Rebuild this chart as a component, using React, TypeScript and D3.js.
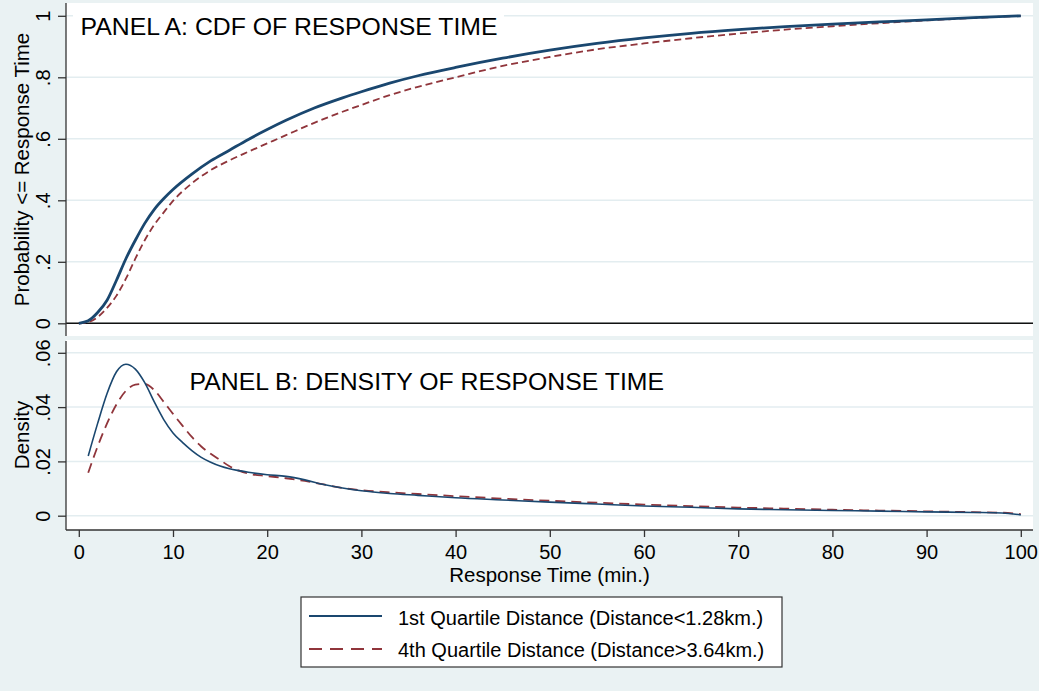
import { useEffect, useRef } from 'react';
import * as d3 from 'd3';

// response time grid (minutes) for the CDF panel
const cdfTimes = [0, 1, 2, 3, 4, 5, 6, 7, 8, 9, 10, 12, 14, 16, 18, 20, 22, 25, 28, 30, 33, 36, 40, 45, 50, 55, 60, 65, 70, 75, 80, 85, 90, 95, 100];
const cdfQ1 = [0, 0.008, 0.035, 0.075, 0.14, 0.21, 0.27, 0.325, 0.37, 0.405, 0.435, 0.485, 0.528, 0.563, 0.598, 0.63, 0.66, 0.7, 0.733, 0.753, 0.781, 0.805, 0.832, 0.862, 0.888, 0.91, 0.928, 0.943, 0.955, 0.965, 0.973, 0.98, 0.987, 0.994, 1.0];
const cdfQ4 = [0, 0.004, 0.02, 0.05, 0.09, 0.145, 0.21, 0.27, 0.32, 0.36, 0.398, 0.455, 0.498, 0.53, 0.558, 0.585, 0.612, 0.652, 0.688, 0.71, 0.742, 0.769, 0.8, 0.837, 0.866, 0.891, 0.91, 0.927, 0.942, 0.955, 0.966, 0.976, 0.985, 0.993, 1.0];

// density panel
const densTimes = [1, 2, 3, 4, 5, 6, 7, 8, 9, 10, 11, 12, 13, 14, 15, 16, 17, 18, 20, 22, 24, 26, 28, 30, 33, 36, 40, 45, 50, 55, 60, 65, 70, 75, 80, 85, 90, 95, 98, 100];
const densQ1 = [0.022, 0.034, 0.045, 0.053, 0.0558, 0.054, 0.049, 0.042, 0.0355, 0.0305, 0.027, 0.024, 0.0215, 0.0197, 0.0183, 0.0173, 0.0166, 0.016, 0.0151, 0.0145, 0.0132, 0.0115, 0.0102, 0.0092, 0.0082, 0.0075, 0.0066, 0.0058, 0.005, 0.0043, 0.0036, 0.0031, 0.0025, 0.0022, 0.0019, 0.0017, 0.0014, 0.0012, 0.001, 0.0003];
const densQ4 = [0.0158, 0.0255, 0.034, 0.041, 0.046, 0.0483, 0.0486, 0.0463, 0.042, 0.0375, 0.0332, 0.029, 0.0255, 0.0228, 0.0205, 0.0182, 0.0166, 0.0155, 0.0146, 0.0138, 0.0128, 0.0115, 0.0102, 0.0094, 0.0086, 0.008, 0.0072, 0.0063, 0.0055, 0.0048, 0.0041, 0.0035, 0.003, 0.0026, 0.0022, 0.0019, 0.0016, 0.0013, 0.0011, 0.0006];

const xTicks = [0, 10, 20, 30, 40, 50, 60, 70, 80, 90, 100];
const cdfTicks = [0, 0.2, 0.4, 0.6, 0.8, 1];
const densTicks = [0, 0.02, 0.04, 0.06];

const seriesLabels = [
  '1st Quartile Distance (Distance<1.28km.)',
  '4th Quartile Distance (Distance>3.64km.)',
];

const BG = '#eaf2f3';
const GRID = '#e3edf0';
const BLUE = '#1a476f';
const RED = '#90353b';
const FONT = '"Liberation Sans", Arial, Helvetica, sans-serif';

const stataNum = (v: number) => (v === 0 ? '0' : v === 1 ? '1' : String(+v.toFixed(3)).replace(/^0/, ''));

export default function App() {
  const ref = useRef<SVGSVGElement | null>(null);

  useEffect(() => {
    const el = ref.current;
    if (!el) return;
    document.body.style.margin = '0';
    const svg = d3.select(el);
    svg.selectAll('*').remove();

    const W = 1039;
    const H = 691;
    const left = 66;
    const right = 1033;

    svg.append('rect').attr('width', W).attr('height', H).attr('fill', BG);

    const x = d3.scaleLinear().domain([0, 100]).range([78.8, 1020.8]);
    const yA = d3.scaleLinear().domain([0, 1]).range([323.3, 15.8]);
    const yB = d3.scaleLinear().domain([0, 0.06]).range([515.7, 352.8]);

    // plot regions
    svg.append('rect').attr('x', left).attr('y', 3).attr('width', right - left).attr('height', 333).attr('fill', '#fff');
    svg.append('rect').attr('x', left).attr('y', 340).attr('width', right - left).attr('height', 190).attr('fill', '#fff');

    // grid lines
    svg.append('g').selectAll('line').data(cdfTicks).join('line')
      .attr('x1', left).attr('x2', right)
      .attr('y1', (d) => yA(d)).attr('y2', (d) => yA(d))
      .attr('stroke', GRID).attr('stroke-width', 1.5);
    svg.append('g').selectAll('line').data(densTicks).join('line')
      .attr('x1', left).attr('x2', right)
      .attr('y1', (d) => yB(d)).attr('y2', (d) => yB(d))
      .attr('stroke', GRID).attr('stroke-width', 1.5);

    // panel A title with its white box
    svg.append('rect').attr('x', 73).attr('y', 8).attr('width', 431).attr('height', 36).attr('fill', '#fff');
    svg.append('text').attr('x', 80.5).attr('y', 35)
      .attr('font-family', FONT).attr('font-size', 24.8).attr('fill', '#000')
      .text('PANEL A: CDF OF RESPONSE TIME');

    // zero line in panel A
    svg.append('line').attr('x1', left).attr('x2', right).attr('y1', yA(0)).attr('y2', yA(0))
      .attr('stroke', '#111').attr('stroke-width', 1.6);

    const cdfLine = (vals: number[]) =>
      d3.line<number>().x((_, i) => x(cdfTimes[i])).y((d) => yA(d)).curve(d3.curveMonotoneX)(vals);
    const densLine = (vals: number[]) =>
      d3.line<number>().x((_, i) => x(densTimes[i])).y((d) => yB(d)).curve(d3.curveMonotoneX)(vals);

    svg.append('path').attr('d', cdfLine(cdfQ4)).attr('fill', 'none')
      .attr('stroke', RED).attr('stroke-width', 1.8).attr('stroke-dasharray', '7,4');
    svg.append('path').attr('d', cdfLine(cdfQ1)).attr('fill', 'none')
      .attr('stroke', BLUE).attr('stroke-width', 2.8);

    svg.append('text').attr('x', 189.5).attr('y', 390)
      .attr('font-family', FONT).attr('font-size', 24.8).attr('fill', '#000')
      .text('PANEL B: DENSITY OF RESPONSE TIME');

    svg.append('path').attr('d', densLine(densQ4)).attr('fill', 'none')
      .attr('stroke', RED).attr('stroke-width', 1.8).attr('stroke-dasharray', '10,6');
    svg.append('path').attr('d', densLine(densQ1)).attr('fill', 'none')
      .attr('stroke', BLUE).attr('stroke-width', 1.6);

    // axes
    const styleAxis = (g: d3.Selection<SVGGElement, unknown, null, undefined>) => {
      g.select('.domain').attr('stroke', '#333').attr('stroke-width', 1.3);
      g.selectAll('.tick line').attr('stroke', '#333').attr('stroke-width', 1.3);
      g.selectAll('.tick text').attr('fill', '#000').attr('font-family', FONT).attr('font-size', 20);
    };

    const axA = svg.append('g').attr('transform', `translate(${left},0)`)
      .call(d3.axisLeft(yA).tickValues(cdfTicks).tickSize(8).tickSizeOuter(0).tickFormat((d) => stataNum(+d)));
    axA.select('.domain').attr('d', 'M0,3V336');
    styleAxis(axA);
    axA.selectAll('.tick text').attr('x', 0).attr('dy', 0).attr('text-anchor', 'middle')
      .attr('transform', 'translate(-16,0) rotate(-90)');

    const axB = svg.append('g').attr('transform', `translate(${left},0)`)
      .call(d3.axisLeft(yB).tickValues(densTicks).tickSize(8).tickSizeOuter(0).tickFormat((d) => stataNum(+d)));
    axB.select('.domain').attr('d', 'M0,341V530');
    styleAxis(axB);
    axB.selectAll('.tick text').attr('x', 0).attr('dy', 0).attr('text-anchor', 'middle')
      .attr('transform', 'translate(-16,0) rotate(-90)');

    const axX = svg.append('g').attr('transform', 'translate(0,530)')
      .call(d3.axisBottom(x).tickValues(xTicks).tickSize(7).tickSizeOuter(0));
    axX.select('.domain').attr('d', `M${left},0H${right}`);
    styleAxis(axX);
    axX.selectAll('.tick text').attr('y', 28.5).attr('dy', 0);

    // axis titles
    svg.append('text').attr('transform', 'translate(29,169.5) rotate(-90)')
      .attr('text-anchor', 'middle').attr('font-family', FONT).attr('font-size', 20.5).attr('fill', '#000')
      .text('Probability <= Response Time');
    svg.append('text').attr('transform', 'translate(29,435) rotate(-90)')
      .attr('text-anchor', 'middle').attr('font-family', FONT).attr('font-size', 20.5).attr('fill', '#000')
      .text('Density');
    svg.append('text').attr('x', (left + right) / 2).attr('y', 582)
      .attr('text-anchor', 'middle').attr('font-family', FONT).attr('font-size', 20.5).attr('fill', '#000')
      .text('Response Time (min.)');

    // legend
    const lg = svg.append('g');
    lg.append('rect').attr('x', 301).attr('y', 597).attr('width', 481).attr('height', 70)
      .attr('fill', '#fff').attr('stroke', '#333').attr('stroke-width', 1.2);
    const rows = [
      { label: seriesLabels[0], color: BLUE, dash: null as string | null, ly: 616, ty: 625 },
      { label: seriesLabels[1], color: RED, dash: '13,8', ly: 649, ty: 656.5 },
    ];
    rows.forEach((r) => {
      lg.append('line').attr('x1', 309).attr('x2', 382).attr('y1', r.ly).attr('y2', r.ly)
        .attr('stroke', r.color).attr('stroke-width', 2)
        .attr('stroke-dasharray', r.dash);
      lg.append('text').attr('x', 398).attr('y', r.ty)
        .attr('font-family', FONT).attr('font-size', 20).attr('fill', '#000')
        .text(r.label);
    });
  }, []);

  return (
    <svg
      ref={ref}
      width={1039}
      height={691}
      style={{ display: 'block', position: 'absolute', left: 0, top: 0 }}
    />
  );
}
